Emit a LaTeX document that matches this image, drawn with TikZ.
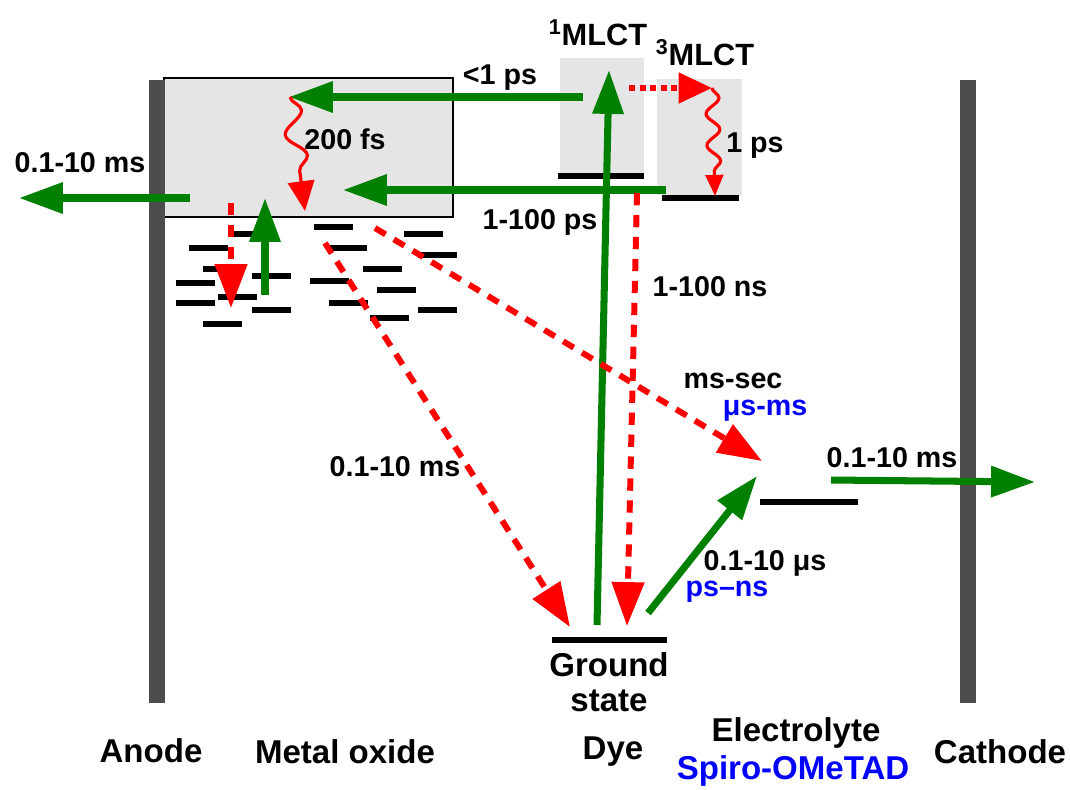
\documentclass[tikz,border=0pt]{standalone}
\usepackage{fontspec}
\setmainfont{Liberation Sans}
\usetikzlibrary{arrows.meta,decorations.pathmorphing}
\definecolor{fastgreen}{HTML}{008000}
\definecolor{lossred}{HTML}{FF0000}
\definecolor{spiroblue}{HTML}{0000FF}
\definecolor{boxgray}{HTML}{E5E5E5}
\definecolor{electrodegray}{HTML}{4D4D4D}

\begin{document}
\begin{tikzpicture}[x=0.02cm, y=-0.02cm,
  every node/.style={font=\bfseries\fontsize{16.3}{19}\selectfont, inner sep=0pt},
  biglabel/.style={font=\bfseries\fontsize{18.8}{22}\selectfont},
  electrode/.style={draw=electrodegray, line width=9.6pt},
  level/.style={draw=black, line width=3.4pt},
  transfer/.style={draw=fastgreen, line width=4pt, -{Triangle[length=25pt, width=17pt]}},
  recomb/.style={draw=lossred, line width=3.4pt, dash pattern=on 7pt off 5.5pt,
                 -{Triangle[length=25pt, width=18pt]}},
  relax/.style={draw=lossred, line width=1.8pt, decorate,
                decoration={snake, amplitude=5.5pt, segment length=26pt, post length=14pt}}]

\useasboundingbox (0,0) rectangle (1070,789);

% metal oxide conduction band and the two dye excited states
\fill[boxgray, draw=black, line width=1.6pt] (164,78) rectangle (453,217);
\fill[boxgray] (560,58) rectangle (644,178);
\fill[boxgray] (657,79) rectangle (742,195);

% electrodes
\draw[electrode] (157,80) -- (157,703);
\draw[electrode] (968,80) -- (968,703);

% trap states below the band edge
\foreach \x/\y in {314/227, 404/234, 234/234, 189/248, 328/248, 418/255,
                   203/269, 363/269, 252/276, 176/283, 310/281, 377/290,
                   218/297, 176/303, 329/303, 252/310, 418/310, 370/318, 203/324}
  \draw[level] (\x,\y) -- ++(39,0);

% energy levels
\coordinate (s1-l) at (558,176); \coordinate (s1-r) at (644,176);
\coordinate (t1-l) at (662,198); \coordinate (t1-r) at (739,198);
\coordinate (gs-l) at (552,640); \coordinate (gs-r) at (667,640);
\coordinate (el-l) at (760,502); \coordinate (el-r) at (858,502);
\draw[level] (s1-l) -- (s1-r);
\draw[level] (t1-l) -- (t1-r);
\draw[level] (gs-l) -- (gs-r);
\draw[level] (el-l) -- (el-r);

% end points of the transitions
\coordinate (exc-a) at (597,625);  \coordinate (exc-b) at (609,70);
\coordinate (inj1-a) at (583,97);  \coordinate (inj1-b) at (289,97);
\coordinate (inj3-a) at (666,190); \coordinate (inj3-b) at (343,190);
\coordinate (isc-a) at (629,88);   \coordinate (isc-b) at (712,88);
\coordinate (th-a) at (290,97);    \coordinate (th-b) at (305,211);
\coordinate (vr-a) at (712,88);    \coordinate (vr-b) at (715,196);
\coordinate (out-a) at (190,198);  \coordinate (out-b) at (19,198);
\coordinate (trin-a) at (231,203); \coordinate (trin-b) at (231,308);
\coordinate (trout-a) at (265,295); \coordinate (trout-b) at (265,198);
\coordinate (rdye-a) at (325,243); \coordinate (rdye-b) at (570,627);
\coordinate (rel-a) at (375,228);  \coordinate (rel-b) at (762,461);
\coordinate (decay-a) at (637,193); \coordinate (decay-b) at (627,626);
\coordinate (regen-a) at (648,613); \coordinate (regen-b) at (757,476);
\coordinate (hole-a) at (831,480); \coordinate (hole-b) at (1035,482);

% forward steps
\draw[transfer] (exc-a) -- (exc-b);
\draw[transfer] (inj1-a) -- (inj1-b);
\draw[transfer] (inj3-a) -- (inj3-b);
\draw[transfer] (out-a) -- (out-b);
\draw[transfer] (trout-a) -- (trout-b);
\draw[transfer] (regen-a) -- (regen-b);
\draw[transfer] (hole-a) -- (hole-b);

% losses and relaxation
\draw[draw=lossred, line width=3pt, dash pattern=on 3.5pt off 2.5pt,
      -{Triangle[length=19pt, width=17pt]}] (isc-a) -- (isc-b);
\draw[relax, -{Triangle[length=17pt, width=15pt]}] (th-a) -- (th-b);
\draw[relax, decoration={amplitude=3.8pt, segment length=18pt, post length=11pt},
      -{Triangle[length=12pt, width=10pt]}] (vr-a) -- (vr-b);
\draw[recomb] (trin-a) -- (trin-b);
\draw[recomb] (rdye-a) -- (rdye-b);
\draw[recomb] (rel-a) -- (rel-b);
\draw[recomb] (decay-a) -- (decay-b);

% time constants
\node (t-inj1) at (500,78) {<1 ps};
\node (t-inj3) at (540,222) {1-100 ps};
\node (t-therm) at (345,139) {200 fs};
\node (t-vib) at (755,146) {1 ps};
\node (t-decay) at (710,287) {1-100 ns};
\node (t-out) at (80,163) {0.1-10 ms};
\node (t-rdye) at (395,467) {0.1-10 ms};
\node (t-rel) at (733,381) {ms-sec};
\node[text=spiroblue] (t-rel2) at (765,411) {μs-ms};
\node (t-hole) at (892,458) {0.1-10 ms};
\node (t-regen) at (765,563) {0.1-10 μs};
\node[text=spiroblue] (t-regen2) at (727,592) {ps–ns};

% state names
\node[font=\bfseries\fontsize{17.5}{20}\selectfont] (n-s1) at (598,33) {\textsuperscript{1}MLCT};
\node[font=\bfseries\fontsize{17.5}{20}\selectfont] (n-t1) at (705,53) {\textsuperscript{3}MLCT};
\node[biglabel] (n-gs1) at (609,665) {Ground};
\node[biglabel] (n-gs2) at (609,701) {state};

% layer names
\node[biglabel] (n-anode) at (151,751) {Anode};
\node[biglabel] (n-oxide) at (345,752) {Metal oxide};
\node[biglabel] (n-dye) at (613,752) {Dye};
\node[biglabel] (n-elec) at (796,733) {Electrolyte};
\node[biglabel, text=spiroblue] (n-spiro) at (793,771) {Spiro-OMeTAD};
\node[biglabel] (n-cath) at (1000,752) {Cathode};

\end{tikzpicture}
\end{document}
